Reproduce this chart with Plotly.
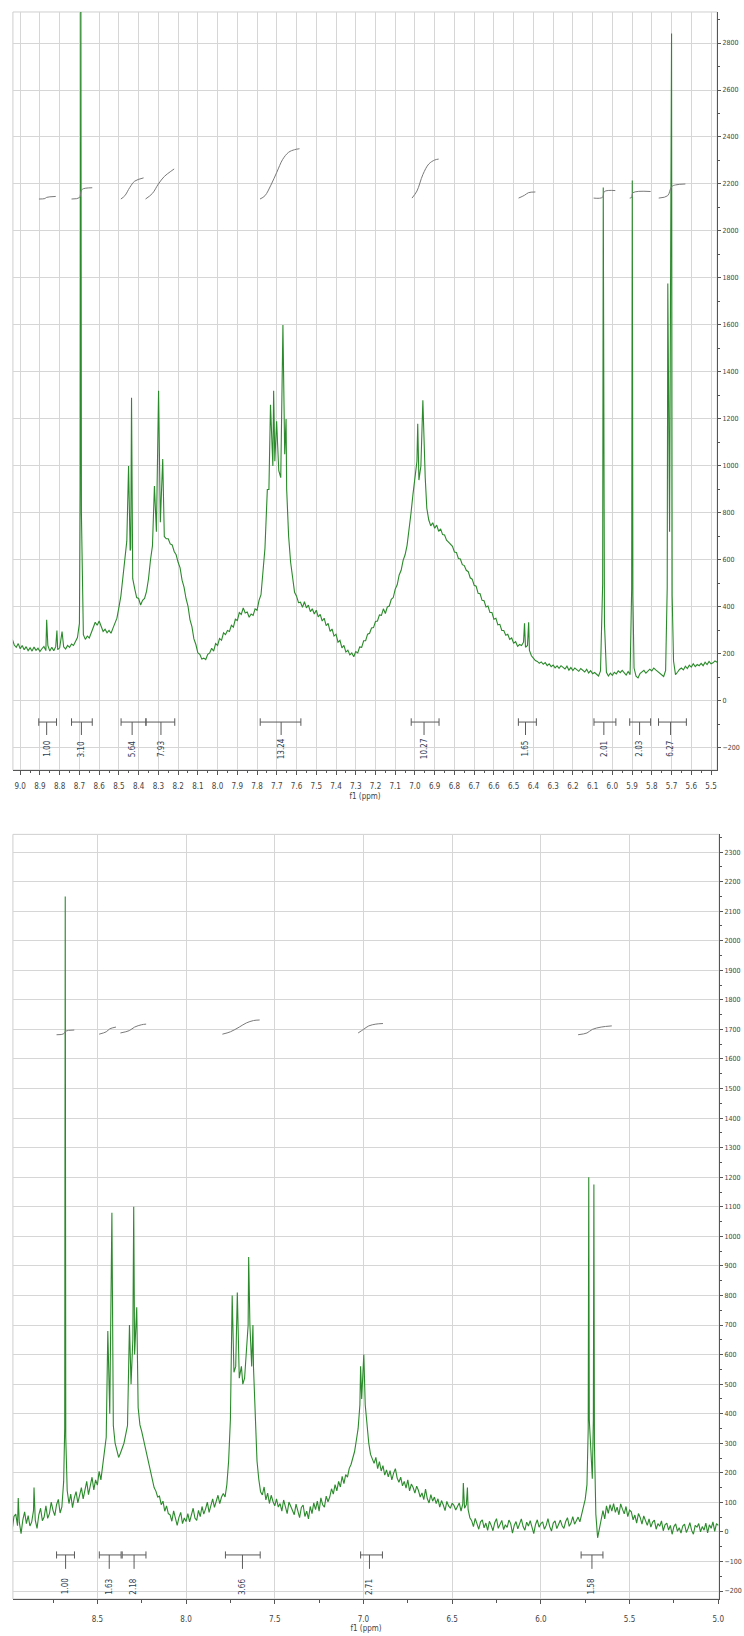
import plotly.graph_objects as go

# ---------------- upper spectrum ----------------
# intensities on a 0.01 ppm grid, 9.05 -> 5.46 ppm (one row per 0.1 ppm)
top_grid_start = 9.05
top_rows = [
    [250, 262, 238, 228, 244, 222, 236, 218, 231, 214],
    [226, 212, 229, 215, 224, 210, 222, 232, 214, 236],
    [212, 228, 214, 231, 218, 226, 215, 230, 221, 236],
    [228, 242, 236, 252, 270, 330, 340, 282, 262, 276],
    [268, 290, 310, 335, 322, 340, 318, 296, 305, 290],
    [300, 288, 310, 335, 352, 398, 446, 524, 600, 680],
    [900, 650, 520, 478, 440, 436, 408, 428, 436, 466],
    [520, 600, 660, 900, 720, 1100, 760, 900, 700, 690],
    [690, 668, 664, 636, 622, 590, 566, 514, 484, 436],
    [404, 346, 316, 264, 240, 204, 198, 178, 182, 176],
    [198, 204, 224, 212, 244, 236, 266, 258, 290, 282],
    [300, 296, 322, 314, 348, 342, 376, 368, 396, 374],
    [378, 356, 370, 364, 392, 386, 428, 452, 540, 650],
    [800, 900, 1100, 1000, 1020, 1100, 980, 950, 1400, 1050],
    [900, 700, 590, 528, 462, 446, 418, 420, 398, 422],
    [396, 408, 380, 392, 370, 386, 358, 368, 340, 352],
    [320, 330, 296, 306, 276, 284, 250, 258, 226, 236],
    [208, 216, 196, 204, 188, 210, 204, 230, 228, 256],
    [256, 284, 288, 310, 312, 338, 340, 366, 364, 392],
    [372, 400, 404, 432, 440, 476, 494, 536, 556, 598],
    [622, 662, 720, 800, 880, 960, 1020, 940, 1000, 1100],
    [900, 820, 770, 745, 758, 735, 748, 722, 732, 708],
    [706, 684, 676, 668, 658, 634, 632, 606, 604, 580],
    [576, 556, 550, 524, 518, 492, 488, 458, 456, 428],
    [426, 400, 404, 376, 376, 348, 352, 324, 326, 300],
    [300, 280, 284, 262, 268, 246, 252, 232, 240, 236],
    [250, 228, 236, 215, 192, 182, 172, 168, 160, 166],
    [156, 163, 150, 158, 146, 153, 141, 149, 139, 150],
    [143, 136, 148, 131, 142, 129, 140, 133, 126, 138],
    [131, 123, 135, 119, 129, 116, 121, 112, 106, 128],
    [360, 330, 122, 106, 118, 109, 122, 115, 128, 120],
    [130, 118, 110, 125, 112, 400, 140, 105, 98, 116],
    [122, 130, 118, 126, 135, 128, 140, 132, 125, 118],
    [112, 104, 130, 380, 720, 500, 170, 112, 122, 134],
    [140, 132, 148, 138, 152, 144, 158, 146, 155, 150],
    [160, 150, 165, 155, 168, 158, 162, 170, 165, 172],
]
# sharp lines (ppm, intensity)
top_peak_ppm = [8.866, 8.814, 8.788, 8.696, 8.693, 8.690, 8.451, 8.443, 8.436,
                8.320, 8.299, 8.278, 7.748, 7.732, 7.716, 7.701, 7.669, 7.653,
                6.986, 6.960, 6.948, 6.445, 6.424, 6.049, 6.046, 6.043,
                5.902, 5.899, 5.896, 5.722, 5.719, 5.700, 5.697]
top_peak_int = [345, 300, 295, 900, 3300, 800, 1000, 640, 1290,
                915, 1320, 1030, 900, 1260, 1320, 1190, 1600, 1200,
                1180, 1280, 950, 330, 335, 500, 2185, 450,
                480, 2215, 450, 480, 1776, 2840, 450]

# integral curves
top_integral_ppm = [
    [8.905, 8.875, 8.866, 8.82],
    [8.74, 8.70, 8.693, 8.685, 8.635],
    [8.49, 8.47, 8.445, 8.42, 8.375],
    [8.365, 8.33, 8.30, 8.27, 8.24, 8.22],
    [7.785, 7.76, 7.73, 7.70, 7.67, 7.64, 7.61, 7.585],
    [7.015, 6.99, 6.96, 6.93, 6.90, 6.88],
    [6.475, 6.445, 6.425, 6.39],
    [6.095, 6.05, 6.04, 5.985],
    [5.912, 5.902, 5.895, 5.806],
    [5.765, 5.72, 5.70, 5.68, 5.63],
]
top_integral_val = [
    [2136, 2138, 2143, 2147],
    [2136, 2142, 2165, 2178, 2184],
    [2136, 2150, 2185, 2212, 2226],
    [2136, 2160, 2200, 2232, 2252, 2264],
    [2136, 2150, 2195, 2250, 2305, 2335, 2346, 2350],
    [2140, 2170, 2240, 2285, 2302, 2306],
    [2140, 2152, 2163, 2166],
    [2140, 2143, 2168, 2172],
    [2140, 2143, 2163, 2168],
    [2140, 2150, 2188, 2196, 2200],
]
top_integral_labels = ["1.00", "3.10", "5.64", "7.93", "13.24", "10.27", "1.65", "2.01", "2.03", "6.27"]
top_integral_from = [8.906, 8.740, 8.489, 8.363, 7.784, 7.019, 6.476, 6.093, 5.912, 5.766]
top_integral_to = [8.816, 8.635, 8.363, 8.217, 7.578, 6.878, 6.385, 5.982, 5.806, 5.625]
top_integral_mid = [8.866, 8.690, 8.433, 8.287, 7.678, 6.954, 6.440, 6.043, 5.862, 5.705]

# ---------------- lower spectrum ----------------
bot_grid_start = 8.99
bot_rows = [
    [35, 8, 52, 60, 21, 33, -6, 41, 68, 28],
    [55, 20, 34, 72, 40, 12, 58, 80, 38, 50],
    [88, 46, 62, 101, 73, 55, 92, 110, 64, 85],
    [170, 200, 140, 96, 128, 82, 115, 136, 98, 124],
    [150, 112, 138, 171, 126, 160, 185, 142, 176, 158],
    [205, 176, 228, 260, 320, 450, 400, 450, 360, 300],
    [272, 252, 266, 280, 300, 330, 360, 450, 500, 650],
    [600, 620, 420, 362, 340, 312, 286, 255, 226, 200],
    [182, 150, 138, 118, 121, 92, 104, 70, 88, 62],
    [58, 36, 71, 40, 22, 49, 66, 28, 47, 35],
    [62, 34, 58, 80, 47, 39, 73, 52, 86, 60],
    [78, 101, 66, 94, 112, 83, 105, 124, 96, 118],
    [130, 118, 160, 240, 380, 560, 540, 560, 560, 520],
    [520, 500, 520, 600, 700, 700, 560, 560, 360, 240],
    [178, 136, 125, 152, 108, 131, 96, 124, 103, 88],
    [112, 84, 96, 70, 108, 79, 62, 101, 85, 72],
    [58, 94, 66, 48, 83, 91, 52, 70, 44, 86],
    [62, 98, 75, 104, 70, 115, 92, 84, 121, 102],
    [118, 146, 128, 160, 139, 171, 152, 188, 163, 194],
    [185, 215, 228, 250, 272, 310, 350, 430, 450, 520],
    [430, 360, 300, 262, 248, 232, 252, 214, 238, 206],
    [224, 192, 210, 186, 207, 176, 199, 214, 182, 168],
    [185, 156, 171, 148, 176, 139, 162, 150, 131, 155],
    [140, 118, 132, 109, 145, 112, 98, 126, 104, 118],
    [96, 112, 84, 106, 91, 72, 103, 88, 80, 97],
    [90, 74, 86, 98, 70, 95, 80, 92, 75, 48],
    [38, 18, 46, 25, 9, 34, 41, 14, 30, 5],
    [36, 22, 4, 31, 45, 12, 27, 39, 8, 24],
    [15, 40, 28, -4, 22, 35, 10, 30, 44, 18],
    [6, 33, 20, 38, 12, -6, 25, 41, 16, 28],
    [34, 9, 22, 45, 18, 3, 30, 37, 11, 26],
    [40, 21, 12, 35, 48, 19, 30, 52, 26, 38],
    [50, 34, 62, 80, 110, 160, 400, 300, 180, 400],
    [60, -20, 10, 48, 72, 44, 88, 63, 92, 70],
    [96, 66, 84, 58, 95, 77, 61, 86, 52, 74],
    [68, 41, 57, 30, 62, 49, 26, 54, 35, 22],
    [44, 16, 33, 40, 9, 28, 19, 37, 4, 24],
    [30, 6, 22, -8, 18, 27, 2, 14, -4, 20],
    [26, -2, 12, 31, 5, -8, 22, 16, 28, 0],
    [18, 6, 30, -3, 24, 12, 34, 2, 28, 22],
]
bot_peak_ppm = [8.946, 8.857, 8.684, 8.681, 8.678, 8.441, 8.418, 8.319, 8.295, 8.278,
                7.740, 7.711, 7.688, 7.647, 7.623, 7.016, 6.998, 6.437, 6.414,
                5.733, 5.730, 5.727, 5.704, 5.701, 5.698]
bot_peak_int = [115, 150, 350, 2150, 320, 680, 1080, 700, 1100, 760,
                800, 810, 560, 930, 700, 560, 600, 165, 150,
                350, 1200, 380, 380, 1175, 300]

bot_integral_ppm = [
    [8.73, 8.69, 8.68, 8.63],
    [8.49, 8.45, 8.43, 8.395],
    [8.37, 8.32, 8.29, 8.25, 8.225],
    [7.795, 7.75, 7.70, 7.66, 7.62, 7.585],
    [7.03, 7.00, 6.97, 6.93, 6.89],
    [5.79, 5.74, 5.71, 5.66, 5.60],
]
bot_integral_val = [
    [1682, 1685, 1694, 1698],
    [1684, 1692, 1702, 1708],
    [1688, 1696, 1708, 1716, 1718],
    [1684, 1692, 1708, 1722, 1730, 1732],
    [1688, 1700, 1712, 1718, 1720],
    [1682, 1688, 1700, 1708, 1712],
]
bot_integral_labels = ["1.00", "1.63", "2.18", "3.66", "2.71", "1.58"]
bot_integral_from = [8.730, 8.489, 8.360, 7.778, 7.016, 5.773]
bot_integral_to = [8.629, 8.366, 8.226, 7.582, 6.893, 5.650]
bot_integral_mid = [8.679, 8.433, 8.293, 7.682, 6.966, 5.712]

FONT = "Liberation Sans Narrow, DejaVu Sans Condensed, Liberation Sans, sans-serif"
GREEN = "#2b8a2b"
GRID = "#d6d6d6"
AXIS = "#555555"


def assemble(start, rows, pk_ppm, pk_int):
    vals = [v for row in rows for v in row]
    grid = [round(start - 0.01 * i, 2) for i in range(len(vals))]
    pts = [(x, v) for x, v in zip(grid, vals)
           if all(abs(x - p) > 0.0025 for p in pk_ppm)]
    pts += list(zip(pk_ppm, pk_int))
    pts.sort(key=lambda t: -t[0])
    return [p[0] for p in pts], [p[1] for p in pts]


fig = go.Figure()

tx, ty = assemble(top_grid_start, top_rows, top_peak_ppm, top_peak_int)
bx, by = assemble(bot_grid_start, bot_rows, bot_peak_ppm, bot_peak_int)

fig.add_trace(go.Scatter(x=tx, y=ty, mode="lines", line=dict(color=GREEN, width=1.1),
                         xaxis="x", yaxis="y", hoverinfo="skip"))
fig.add_trace(go.Scatter(x=bx, y=by, mode="lines", line=dict(color=GREEN, width=1.1),
                         xaxis="x2", yaxis="y2", hoverinfo="skip"))

for xs, ys in zip(top_integral_ppm, top_integral_val):
    fig.add_trace(go.Scatter(x=xs, y=ys, mode="lines", line=dict(color="#7a7a7a", width=1, shape="spline"),
                             xaxis="x", yaxis="y", hoverinfo="skip"))
for xs, ys in zip(bot_integral_ppm, bot_integral_val):
    fig.add_trace(go.Scatter(x=xs, y=ys, mode="lines", line=dict(color="#7a7a7a", width=1, shape="spline"),
                             xaxis="x2", yaxis="y2", hoverinfo="skip"))


def brackets(xref, yref, lo, hi, mid, labels, y_bar, cap, stem_end, y_text):
    for a, b, c, lab in zip(lo, hi, mid, labels):
        line = dict(color="#5a5a5a", width=1)
        fig.add_shape(type="line", xref=xref, yref=yref, x0=a, x1=b, y0=y_bar, y1=y_bar, line=line)
        fig.add_shape(type="line", xref=xref, yref=yref, x0=a, x1=a, y0=y_bar - cap, y1=y_bar + cap, line=line)
        fig.add_shape(type="line", xref=xref, yref=yref, x0=b, x1=b, y0=y_bar - cap, y1=y_bar + cap, line=line)
        fig.add_shape(type="line", xref=xref, yref=yref, x0=c, x1=c, y0=y_bar, y1=stem_end, line=line)
        fig.add_annotation(x=c, y=y_text, xref=xref, yref=yref, text=lab, showarrow=False,
                           textangle=-90, font=dict(family=FONT, size=8, color="#2e3b55"))


brackets("x", "y", top_integral_from, top_integral_to, top_integral_mid, top_integral_labels,
         -90, 16, -145, -205)
brackets("x2", "y2", bot_integral_from, bot_integral_to, bot_integral_mid, bot_integral_labels,
         -78, 12, -125, -185)

# light frame round each plotting area
for xr, yr in (("x domain", "y domain"), ("x2 domain", "y2 domain")):
    fig.add_shape(type="rect", xref=xr, yref=yr, x0=0, x1=1, y0=0, y1=1,
                  line=dict(color="#cfcfcf", width=1), layer="below")

tick_font = dict(family=FONT, size=8, color="#444444")
common_x = dict(showline=True, linecolor=AXIS, linewidth=1, ticks="outside", tickcolor=AXIS,
                ticklen=4, showgrid=True, gridcolor=GRID, gridwidth=1, zeroline=False,
                tickformat=".1f", tickfont=tick_font)
common_y = dict(side="right", showline=True, linecolor=AXIS, linewidth=1, ticks="outside",
                tickcolor=AXIS, ticklen=3, showgrid=True, gridcolor=GRID, gridwidth=1,
                zeroline=False, tickfont=dict(family=FONT, size=7, color="#444444"))

fig.update_layout(
    width=744, height=1636, margin=dict(l=0, r=0, t=0, b=0),
    paper_bgcolor="white", plot_bgcolor="white", showlegend=False,
    font=dict(family=FONT, size=8, color="#444444"),
    xaxis=dict(domain=[0.01747, 0.97043], range=[9.037, 5.469], anchor="y",
               dtick=0.1, tick0=0, ticklabelstandoff=4,
               minor=dict(dtick=0.05, ticks="outside", ticklen=2, tickcolor=AXIS, showgrid=False),
               title=dict(text="f1 (ppm)", standoff=3, font=dict(family=FONT, size=8, color="#444444")),
               **common_x),
    yaxis=dict(domain=[0.52934, 0.99267], range=[-294, 2932], anchor="x",
               dtick=200, tick0=0,
               minor=dict(dtick=100, ticks="outside", ticklen=2, tickcolor=AXIS, showgrid=False),
               **common_y),
    xaxis2=dict(domain=[0.01747, 0.97312], range=[8.976, 4.995], anchor="y2",
                dtick=0.5, tick0=0, ticklabelstandoff=8,
                minor=dict(dtick=0.25, ticks="outside", ticklen=3, tickcolor=AXIS, showgrid=False),
                title=dict(text="f1 (ppm)", standoff=1, font=dict(family=FONT, size=8, color="#444444")),
                **common_x),
    yaxis2=dict(domain=[0.02262, 0.49000], range=[-227, 2360], anchor="x2",
                dtick=100, tick0=0,
                minor=dict(dtick=50, ticks="outside", ticklen=2, tickcolor=AXIS, showgrid=False),
                **common_y),
)

fig.write_html("out.html")
